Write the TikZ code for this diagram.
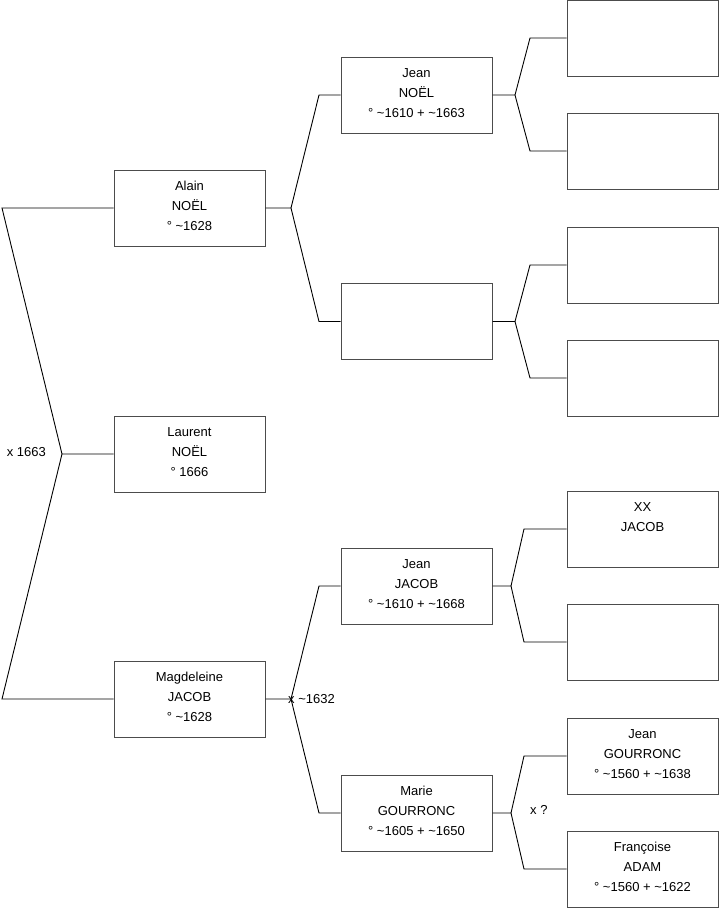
\documentclass[tikz,border=0pt]{standalone}
\usepackage{fontspec}
\setmainfont{Liberation Sans}
\usepackage{tikz}
\usetikzlibrary{positioning,calc}
\tikzset{
  P/.style={draw=black!70, rectangle, align=center, line width=1pt,
            minimum width=151pt, minimum height=76pt, inner sep=0pt,
            text depth=4.5pt, font=\fontsize{13}{20}\selectfont},
  T/.style={inner sep=0pt, font=\fontsize{13}{15}\selectfont},
  L/.style={draw=black, line width=0.9pt}
}

\begin{document}
\begin{tikzpicture}[x=1pt, y=-1pt]
\useasboundingbox (0,0) rectangle (719,908);

% ---- Column 1: child and parents ----
\node[P] (ALAIN)   at (189.5,208) {Alain\\NOËL\\° \textasciitilde1628};
\node[P] (LAURENT) at (189.5,454) {Laurent\\NOËL\\° 1666};
\node[P] (MAGD)    at (189.5,699) {Magdeleine\\JACOB\\° \textasciitilde1628};

% ---- Column 2: grandparents ----
\node[P] (JEANN) at (416.5,95)    {Jean\\NOËL\\° \textasciitilde1610 + \textasciitilde1663};
\node[P] (UNK1)  at (416.5,321.5) {};
\node[P] (JEANJ) at (416.5,586)   {Jean\\JACOB\\° \textasciitilde1610 + \textasciitilde1668};
\node[P] (MARIE) at (416.5,813)   {Marie\\GOURRONC\\° \textasciitilde1605 + \textasciitilde1650};

% ---- Column 3: great-grandparents ----
\node[P] (GP1) at (642.5,38)  {};
\node[P] (GP2) at (642.5,151) {};
\node[P] (GP3) at (642.5,265) {};
\node[P] (GP4) at (642.5,378) {};
\node[P] (GP5) at (642.5,529) {XX\\JACOB\\\mbox{}};
\node[P] (GP6) at (642.5,642) {};
\node[P] (GP7) at (642.5,756) {Jean\\GOURRONC\\° \textasciitilde1560 + \textasciitilde1638};
\node[P] (GP8) at (642.5,869) {Françoise\\ADAM\\° \textasciitilde1560 + \textasciitilde1622};

% ---- Fork points and elbows ----
\coordinate (F0)  at (62,454);  \coordinate (E0a)  at (2,208);   \coordinate (E0b)  at (2,699);
\coordinate (FA)  at (291,208); \coordinate (EAa)  at (319,95);  \coordinate (EAb)  at (319,321.5);
\coordinate (FM)  at (291,699); \coordinate (EMa)  at (319,586); \coordinate (EMb)  at (319,813);
\coordinate (FJN) at (515,95);  \coordinate (EJNa) at (530,38);  \coordinate (EJNb) at (530,151);
\coordinate (FU)  at (515,321.5); \coordinate (EUa) at (530,265); \coordinate (EUb)  at (530,378);
\coordinate (FJJ) at (511,586); \coordinate (EJJa) at (524,529); \coordinate (EJJb) at (524,642);
\coordinate (FMG) at (511,813); \coordinate (EMGa) at (524,756); \coordinate (EMGb) at (524,869);

% ---- Links ----
\draw[L] (LAURENT.west) -- (F0) -- (E0a) -- (ALAIN.west);
\draw[L] (F0) -- (E0b) -- (MAGD.west);

\draw[L] (ALAIN.east) -- (FA) -- (EAa) -- (JEANN.west);
\draw[L] (FA) -- (EAb) -- (UNK1.west);
\draw[L] (MAGD.east) -- (FM) -- (EMa) -- (JEANJ.west);
\draw[L] (FM) -- (EMb) -- (MARIE.west);

\draw[L] (JEANN.east) -- (FJN) -- (EJNa) -- (GP1.west);
\draw[L] (FJN) -- (EJNb) -- (GP2.west);
\draw[L] (UNK1.east) -- (FU) -- (EUa) -- (GP3.west);
\draw[L] (FU) -- (EUb) -- (GP4.west);
\draw[L] (JEANJ.east) -- (FJJ) -- (EJJa) -- (GP5.west);
\draw[L] (FJJ) -- (EJJb) -- (GP6.west);
\draw[L] (MARIE.east) -- (FMG) -- (EMGa) -- (GP7.west);
\draw[L] (FMG) -- (EMGb) -- (GP8.west);

% ---- Marriage labels ----
\node[T, left=16pt of F0, yshift=2pt] {x 1663};
\node[T, right=-3pt of FM] {x \textasciitilde1632};
\node[T, right=19pt of FMG, yshift=3pt] {x ?};

\end{tikzpicture}
\end{document}
